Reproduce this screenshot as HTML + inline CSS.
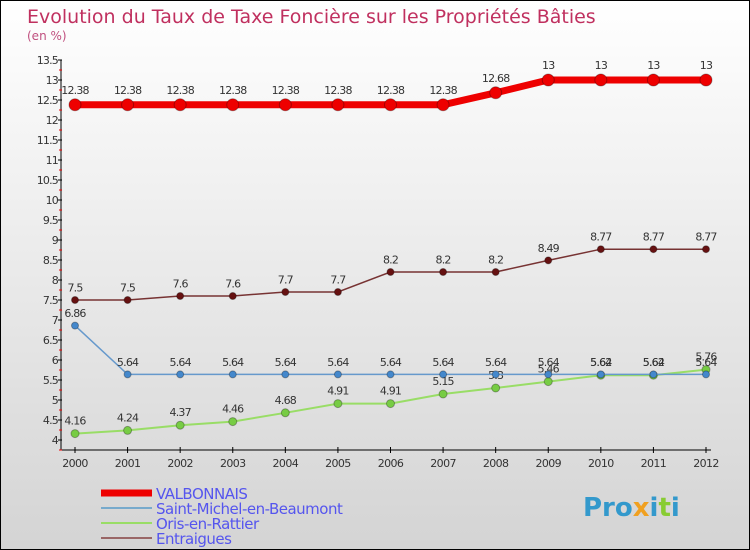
<!DOCTYPE html>
<html><head><meta charset="utf-8"><style>
body{margin:0}
#c{width:748px;height:548px;border:1px solid #000;background:linear-gradient(#fff,#d4d4d4);position:relative;font-family:"DejaVu Sans","Liberation Sans",sans-serif}
</style></head><body>
<div id="c">
<svg width="748" height="548" id="s" style="position:absolute;left:0;top:0"></svg>
</div>
<script>
const years=["2000","2001","2002","2003","2004","2005","2006","2007","2008","2009","2010","2011","2012"];
const yTicks=[4,4.5,5,5.5,6,6.5,7,7.5,8,8.5,9,9.5,10,10.5,11,11.5,12,12.5,13,13.5];
const valbonnais=[12.38,12.38,12.38,12.38,12.38,12.38,12.38,12.38,12.68,13,13,13,13];
const saintMichel=[6.86,5.64,5.64,5.64,5.64,5.64,5.64,5.64,5.64,5.64,5.64,5.64,5.64];
const oris=[4.16,4.24,4.37,4.46,4.68,4.91,4.91,5.15,5.3,5.46,5.62,5.62,5.76];
const entraigues=[7.5,7.5,7.6,7.6,7.7,7.7,8.2,8.2,8.2,8.49,8.77,8.77,8.77];
const NS="http://www.w3.org/2000/svg",s=document.getElementById('s');
function el(t,a,p){const e=document.createElementNS(NS,t);for(const k in a)e.setAttribute(k,a[k]);(p||s).appendChild(e);return e;}
const X=i=>74+i*(631/12), Y=v=>439-(v-4)*40;
let e;
e=el('text',{x:26,y:22,'font-size':19,fill:'#c0305f'});e.textContent="Evolution du Taux de Taxe Foncière sur les Propriétés Bâties";

e=el('text',{x:26,y:39,'font-size':12,fill:'#c0507f'});e.textContent="(en %)";

el('line',{x1:60,y1:59,x2:60,y2:449,stroke:'#000'});
el('line',{x1:60,y1:449,x2:710,y2:449,stroke:'#000'});
yTicks.forEach(v=>{const y=Y(v);el('line',{x1:57,y1:y,x2:61,y2:y,stroke:'#000'});
 el('line',{x1:58,y1:y+10,x2:61,y2:y+10,stroke:'#e00'});
 e=el('text',{x:57,y:y+4,'font-size':11,fill:'#333','text-anchor':'end','letter-spacing':'-0.8'});e.textContent=String(v);
 });
years.forEach((yr,i)=>{el('line',{x1:X(i),y1:446,x2:X(i),y2:452,stroke:'#000'});
 e=el('text',{x:X(i),y:466,'font-size':11,fill:'#333','text-anchor':'middle','letter-spacing':'-0.6'});e.textContent=yr;
 });
function series(d,col,w,r,fill,name){
 const g=el('g',{});
 el('polyline',{points:d.map((v,i)=>X(i)+','+Y(v)).join(' '),fill:'none',stroke:col,'stroke-width':w},g);
 d.forEach((v,i)=>{const c=el('circle',{cx:X(i),cy:Y(v),r:r,fill:fill,stroke:'rgba(0,0,0,0.3)'},g);
  
  const t=el('text',{x:X(i),y:Y(v)-r-5,'font-size':11,fill:'#333','text-anchor':'middle','letter-spacing':'-0.8'},g);t.textContent=String(v);});
}
series(oris,'#99dd66',2,4,'#77cc44','series-oris');
series(saintMichel,'#6699cc',1.5,3.5,'#4488cc','series-saint-michel');
series(entraigues,'#773333',1.5,3.5,'#661111','series-entraigues');
series(valbonnais,'#ee0000',7,6,'#ee0000','series-valbonnais');
const leg=[["VALBONNAIS","#ee0000",7],["Saint-Michel-en-Beaumont","#77aacc",2],["Oris-en-Rattier","#99dd66",2],["Entraigues","#996666",2]];
leg.forEach((l,i)=>{const y=492+i*15;const g=el('g',{});
 el('line',{x1:100,y1:y,x2:151,y2:y,stroke:l[1],'stroke-width':l[2]},g);
 const t=el('text',{x:155,y:y+6,'font-size':15,fill:'#5555ee','letter-spacing':'-0.5'},g);t.textContent=l[0];});
e=el('text',{x:582,y:515,'font-size':26,'font-weight':'bold',fill:'#3399cc'});
e.innerHTML='Pro<tspan fill="#f0a020">x</tspan>i<tspan fill="#88cc33">t</tspan>i';

</script></body></html>
